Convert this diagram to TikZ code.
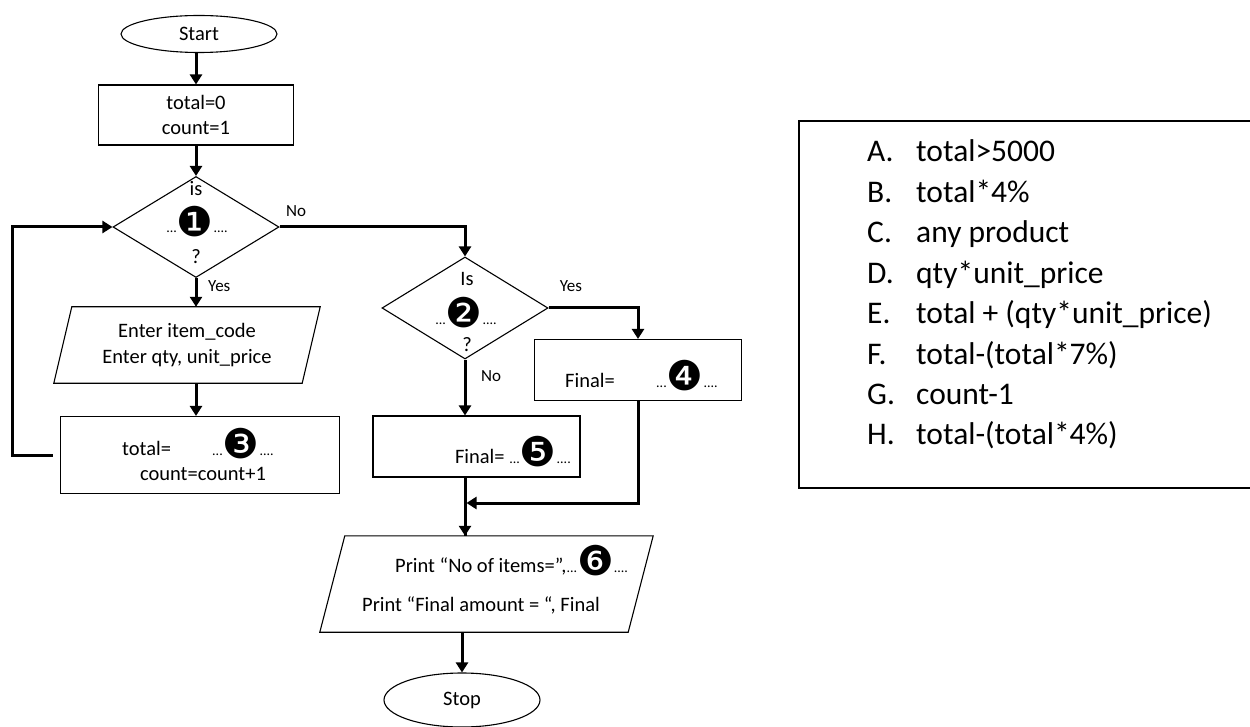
\documentclass[tikz,border=0pt]{standalone}
\usepackage{fontspec}
\setmainfont{Carlito}
\newfontfamily\dingfont{DejaVu Sans}
\usetikzlibrary{shapes.geometric,arrows.meta}
\newcommand{\nbk}[1]{{\fontsize{14}{14}\selectfont ...}\hspace{0pt}\smash{\raisebox{-3.5pt}{\dingfont\fontsize{41}{41}\selectfont #1}}\hspace{0pt}{\fontsize{14}{14}\selectfont ....}}
\begin{document}
\begin{tikzpicture}[x=1pt,y=-1pt,
  every node/.style={font=\fontsize{20.5}{25.5}\selectfont, inner sep=0pt},
  shp/.style={draw=black, line width=1.1pt},
  rbox/.style={shp, rectangle},
  oval/.style={shp, ellipse},
  dia/.style={shp, diamond, minimum width=166pt, minimum height=101pt},
  ghost/.style={rectangle, align=center},
  arr/.style={line width=3pt, -{Triangle[width=12pt,length=10pt]}},
  ln/.style={line width=3pt},
  txt/.style={anchor=base},
  lgl/.style={font=\fontsize{31.5}{36}\selectfont, anchor=base west}
]
\useasboundingbox (0,0) rectangle (1250,727);

% shapes
\node[oval, minimum width=156pt, minimum height=37pt] (start) at (199,34) {Start};
\node[rbox, minimum width=195pt, minimum height=60pt, align=center] (b1) at (196,115) {total=0\\count=1};
\node[dia] (d1) at (196,227) {};
\node[ghost, minimum width=248pt, minimum height=76pt] (in1) at (187,345) {Enter item\_code\\Enter qty, unit\_price};
\draw[shp] ([xshift=9pt]in1.north west) -- ([xshift=9pt]in1.north east) -- ([xshift=-9pt]in1.south east) -- ([xshift=-9pt]in1.south west) -- cycle;
\node[rbox, minimum width=279pt, minimum height=77pt] (b3) at (200,455) {};
\node[dia, minimum height=102pt] (d2) at (465,308) {};
\node[rbox, minimum width=207pt, minimum height=61pt] (b4) at (638,370) {};
\node[rbox, minimum width=207pt, minimum height=61pt] (b5) at (476.5,446.5) {};
\node[ghost, minimum width=308pt, minimum height=96pt] (out) at (486.5,584) {};
\draw[shp] ([xshift=12.5pt]out.north west) -- ([xshift=12.5pt]out.north east) -- ([xshift=-12.5pt]out.south east) -- ([xshift=-12.5pt]out.south west) -- cycle;
\node[oval, minimum width=156pt, minimum height=54pt] (stop) at (462,700) {Stop};

% texts inside shapes
\node[txt] (d1a) at (196,196) {is};
\node[txt] (d1b) at (197,233) {\nbk{❶}};
\node[txt] (d1c) at (196,264) {?};
\node[txt] (d2a) at (467,286) {Is};
\node[txt] (d2b) at (466,324) {\nbk{❷}};
\node[txt] (d2c) at (467,351) {?};
\node[txt, anchor=base west] (b3a) at (122,455) {total=};
\node[txt, anchor=base west] (b3b) at (212,455) {\nbk{❸}};
\node[txt] (b3c) at (203,480) {count=count+1};
\node[txt, anchor=base west] (b4a) at (565,387) {Final=};
\node[txt, anchor=base west] (b4b) at (656,387) {\nbk{❹}};
\node[txt, anchor=base east] (b5a) at (571,463) {Final= \nbk{❺}};
\node[txt, anchor=base west] (o1) at (395,572) {Print “No of items=”,\nbk{❻}};
\node[txt, anchor=base west] (o2) at (362,611) {Print “Final amount = “, Final};

% connectors
\draw[arr] (b1.north |- start.south) -- (b1.north);
\draw[arr] (b1) -- (d1);
\draw[arr] (d1.south) -- (d1.south |- in1.north);
\draw[arr] (d1.south |- in1.south) -- (d1.south |- b3.north);
\draw[arr, shorten <=7pt] (b3.west) -- ++(-47,0) |- (d1.west);
\draw[arr] (d1.east) -| (d2.north);
\draw[arr] (d2.east) -| (b4.north);
\draw[arr] (d2.south) -- (d2.south |- b5.north);
\coordinate (m) at (465,503);
\draw[ln] (d2.south |- b5.south) -- (d2.south |- out.north);
\draw[arr] (d2.south |- m) -- (d2.south |- out.north);
\draw[arr] (b4.south) |- ([xshift=1.5pt]m);
\draw[arr] (stop.north |- out.south) -- (stop.north);

% connector labels
\node[anchor=base west, font=\fontsize{17}{20}\selectfont] (yes1) at (208,291) {Yes};
\node[anchor=base, font=\fontsize{17}{20}\selectfont] (no1) at (296,217) {No};
\node[anchor=base, font=\fontsize{17}{20}\selectfont] (yes2) at (571,291) {Yes};
\node[anchor=base, font=\fontsize{17}{20}\selectfont] (no2) at (491,381) {No};

% legend
\draw[shp] (1252,121) -- (799,121) -- (799,488) -- (1252,488);
\node[lgl] (la) at (867,162) {A.};
\node[lgl] (ta) at (916,162) {total>5000};
\node[lgl] (lb) at (867,202.4) {B.};
\node[lgl] (tb) at (916,202.4) {total*4\%};
\node[lgl] (lc) at (867,242.8) {C.};
\node[lgl] (tc) at (916,242.8) {any product};
\node[lgl] (ld) at (867,283.2) {D.};
\node[lgl] (td) at (916,283.2) {qty*unit\_price};
\node[lgl] (le) at (867,323.6) {E.};
\node[lgl] (te) at (916,323.6) {total + (qty*unit\_price)};
\node[lgl] (lf) at (867,364) {F.};
\node[lgl] (tf) at (916,364) {total-(total*7\%)};
\node[lgl] (lg) at (867,404.4) {G.};
\node[lgl] (tg) at (916,404.4) {count-1};
\node[lgl] (lh) at (867,444.8) {H.};
\node[lgl] (th) at (916,444.8) {total-(total*4\%)};
\end{tikzpicture}
\end{document}
